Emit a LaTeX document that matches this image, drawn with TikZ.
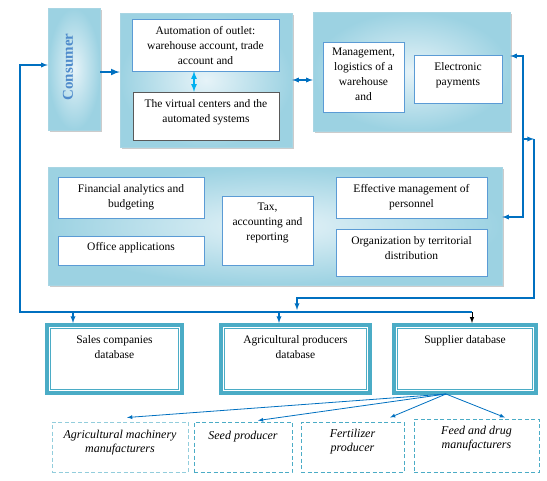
\documentclass[tikz,border=0pt]{standalone}
\usepackage{fontspec}
\setmainfont{Liberation Serif}
\usepackage{tikz}
\usetikzlibrary{calc,positioning,shadows}

\definecolor{linkblue}{HTML}{0070C0}
\definecolor{arrowcyan}{HTML}{00B0F0}
\definecolor{boxline}{HTML}{5B9BD5}
\definecolor{dbline}{HTML}{4BACC6}
\definecolor{dashlight}{HTML}{92CDDC}
\definecolor{panelin}{HTML}{E6F3F8}
\definecolor{panelout}{HTML}{9CD2E2}
\definecolor{panelline}{HTML}{A8D5E3}
\definecolor{consumerblue}{HTML}{4F8BCB}

\tikzset{
	panel/.style={draw=panelline,inner color=panelin,outer color=panelout,
		drop shadow={shadow xshift=2pt,shadow yshift=-2pt,fill=black!40,opacity=.5}},
	inbox/.style={draw=boxline,fill=white},
	toptext/.style={anchor=north,yshift=-#1,align=center,inner sep=3.5pt},
	toptext/.default=3.6pt,
	prodtext/.style={toptext=#1,font=\fontsize{12}{14.5}\selectfont\itshape},
	dbbox/.style={draw=dbline,line width=4pt,fill=white},
	dbinner/.style={draw=dbline,line width=1pt},
	dashbox/.style={draw=dbline,line width=1pt,dash pattern=on 4pt off 2.5pt},
	link/.style={draw=linkblue,line width=1.3pt},
	thinlink/.style={draw=linkblue,line width=0.8pt,-latex},
}

\begin{document}
\begin{tikzpicture}[x=1pt,y=-1pt,font=\fontsize{11.5}{15}\selectfont]
	\useasboundingbox (0,0) rectangle (547,480);
	% consumer
	\node[panel,minimum width=52,minimum height=122] (consumer) at (74,69) {};
	\node[rotate=90,font=\fontsize{15}{15}\selectfont\bfseries,text=consumerblue] (constext) at (68,67) {Consumer};
	% top panels
	\node[panel,minimum width=172,minimum height=134] (autopanel) at (206,80) {};
	\node[inbox,minimum width=147,minimum height=52,label={[toptext]north:{Automation of outlet:\\warehouse account, trade\\account and}}] (autobox) at (205.5,45) {};
	\node[inbox,draw=black!65,minimum width=146,minimum height=48,label={[toptext]north:{The virtual centers and the\\automated systems}}] (virtual) at (206,116) {};
	\node[panel,minimum width=197,minimum height=119] (logpanel) at (411.5,71.5) {};
	\node[inbox,minimum width=81,minimum height=70,label={[toptext=2.6pt]north:{Management,\\logistics of a\\warehouse\\and}}] (manage) at (363.5,77) {};
	\node[inbox,minimum width=88,minimum height=48,label={[toptext]north:{Electronic\\payments}}] (payments) at (458,79) {};
	% middle panel
	\node[panel,minimum width=454,minimum height=118] (bizpanel) at (275,226) {};
	\node[inbox,minimum width=146,minimum height=41,label={[toptext]north:{Financial analytics and\\budgeting}}] (finance) at (131,197.5) {};
	\node[inbox,minimum width=146,minimum height=29,label={[toptext=2.6pt]north:{Office applications}}] (office) at (131,250.5) {};
	\node[inbox,minimum width=91,minimum height=69,label={[toptext]north:{Tax,\\accounting and\\reporting}}] (tax) at (267.5,230.5) {};
	\node[inbox,minimum width=151,minimum height=41,label={[toptext]north:{Effective management of\\personnel}}] (personnel) at (411.5,197.5) {};
	\node[inbox,minimum width=151,minimum height=47,label={[toptext]north:{Organization by territorial\\distribution}}] (territory) at (411.5,252.5) {};
	% databases
	\node[dbbox,minimum width=135,minimum height=68,label={[toptext=8.6pt]north:{Sales companies\\database}}] (sales) at (114.5,359) {};
	\node[dbbox,minimum width=149,minimum height=68,label={[toptext=8.6pt]north:{Agricultural producers\\database}}] (agri) at (295.5,359) {};
	\node[dbbox,minimum width=142,minimum height=68,label={[toptext=8.6pt]north:{Supplier database}}] (supplier) at (465,359) {};
	\foreach \db in {sales,agri,supplier}
	\draw[dbinner] ([shift={(5.7,5.7)}]\db.north west) rectangle ([shift={(-5.7,-5.7)}]\db.south east);
	% producers
	\node[dashbox,draw=dashlight,minimum width=136,minimum height=50,label={[prodtext=4.5pt]north:{Agricultural machinery\\manufacturers}}] (machinery) at (120,447) {};
	\node[dashbox,minimum width=98,minimum height=50,label={[prodtext=5.5pt]north:{Seed producer}}] (seed) at (243,447) {};
	\node[dashbox,minimum width=103,minimum height=50,label={[prodtext=3.5pt]north:{Fertilizer\\producer}}] (fertilizer) at (352.5,447) {};
	\node[dashbox,minimum width=125,minimum height=53,label={[prodtext=3.5pt]north:{Feed and drug\\manufacturers}}] (feed) at (476.5,445.5) {};
	% connectors, top
	\coordinate (consout) at ([yshift=-3pt]consumer.east);
	\draw[link,line width=2pt,-latex] (consout) -- (consout -| autopanel.west);
	\draw[link,latex-latex] (autopanel.east) -- (autopanel.east -| logpanel.west);
	\coordinate (cyantop) at ([xshift=-11.5pt]autobox.south);
	\draw[draw=arrowcyan,line width=1.6pt,latex-latex] (cyantop) -- (cyantop |- virtual.north);
	% right side
	\coordinate (rtop) at (523,56);
	\coordinate (rbot) at (523,217);
	\draw[link,latex-latex] (logpanel.east |- rtop) -- (rtop) -- (rbot) -- (bizpanel.east |- rbot);
	\coordinate (rjoin) at (523,139);
	\coordinate (rfar) at (534,139);
	\coordinate (rcorner) at (534,298);
	\coordinate (drop) at (297,298);
	\coordinate (dropend) at (297,310);
	\draw[link,-latex] (rjoin) -- (rfar);
	\draw[link,-latex] (rfar) -- (rcorner) -- (drop) -- (dropend);
	% bottom bus
	\coordinate (bleft) at (20,312);
	\coordinate (cin) at (20,65);
	\coordinate (b1) at (73,312);
	\coordinate (b2) at (279,312);
	\coordinate (b3) at (472,312);
	\draw[link,-latex] (b3) -- (bleft) -- (cin) -- (cin -| consumer.west);
	\draw[link,-latex] (b1) -- (b1 |- sales.north);
	\draw[link,-latex] (b2) -- (b2 |- agri.north);
	\draw[line width=1pt,-latex] (b3) -- (b3 |- supplier.north);
	% supplier to producers
	\coordinate (sout) at ([xshift=-19pt,yshift=1pt]supplier.south);
	\draw[thinlink] (sout) -- ([xshift=7pt,yshift=4pt]machinery.north);
	\draw[thinlink] (sout) -- ([xshift=15pt,yshift=1pt]seed.north);
	\draw[thinlink] (sout) -- ([xshift=37.5pt,yshift=4pt]fertilizer.north);
	\draw[thinlink] (sout) -- ([xshift=28.5pt,yshift=1pt]feed.north);
\end{tikzpicture}
\end{document}
